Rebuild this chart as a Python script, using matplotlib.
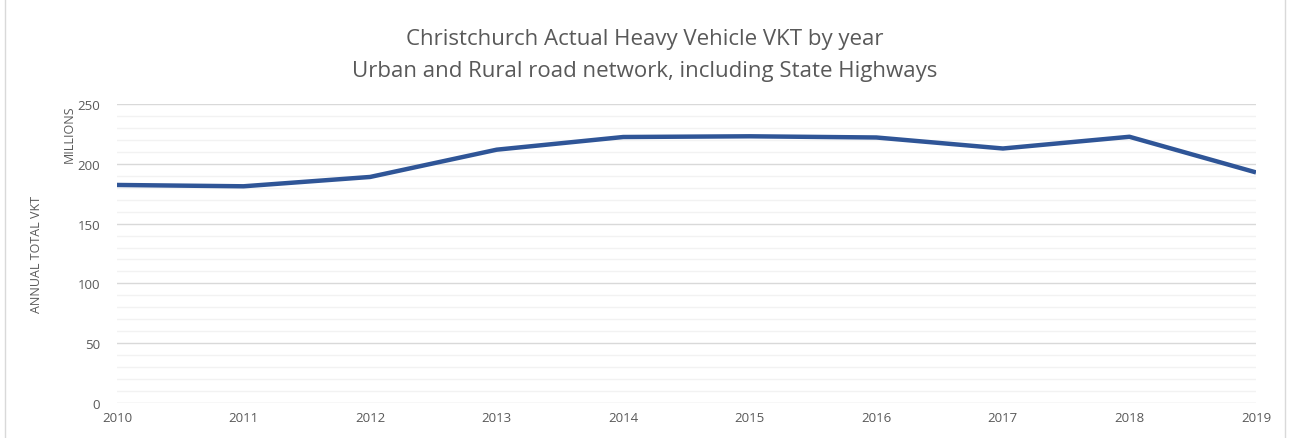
import matplotlib.pyplot as plt
from matplotlib.patches import Rectangle

years = [2010, 2011, 2012, 2013, 2014, 2015, 2016, 2017, 2018, 2019]
vkt = [182.3, 181.2, 189.0, 211.8, 222.4, 223.0, 222.0, 212.8, 222.6, 192.8]

gray = '#595959'

fig = plt.figure(figsize=(12.9, 4.39), dpi=100)
plt.rcParams['font.family'] = ['Open Sans', 'DejaVu Sans']

# рамка вокруг диаграммы
fig.patches.append(Rectangle((0.004, -0.01), 0.992, 1.02, transform=fig.transFigure,
                             fill=False, edgecolor='#d9d9d9', linewidth=1))

ax = fig.add_axes([117 / 1290, 1 - 404 / 439, (1256 - 117) / 1290, 299 / 439])
ax.plot(years, vkt, color='#2F5597', linewidth=3.2, solid_capstyle='butt')

ax.set_xlim(2010, 2019)
ax.set_ylim(0, 250)
ax.set_xticks(years)
ax.set_yticks(range(0, 251, 50))
ax.set_yticks(range(0, 251, 10), minor=True)
ax.grid(True, which='major', axis='y', color='#d9d9d9', linewidth=1)
ax.grid(True, which='minor', axis='y', color='#f2f2f2', linewidth=1)
ax.set_axisbelow(True)
for s in ax.spines.values():
    s.set_visible(False)
ax.tick_params(axis='both', which='both', length=0, colors=gray, labelsize=9.5)
ax.tick_params(axis='x', pad=6)
ax.tick_params(axis='y', pad=12)

ax.text(-0.071, 0.5, 'ANNUAL TOTAL VKT', transform=ax.transAxes, rotation=90,
        ha='center', va='center', fontsize=9, color=gray)
ax.text(-0.042, 1.0, 'MILLIONS', transform=ax.transAxes, rotation=90,
        ha='center', va='top', fontsize=9, color=gray)

fig.text(0.5, 0.91, 'Christchurch Actual Heavy Vehicle VKT by year', ha='center',
         va='center', fontsize=16, color=gray)
fig.text(0.5, 0.837, 'Urban and Rural road network, including State Highways', ha='center',
         va='center', fontsize=16, color=gray)

fig.savefig('out.png', dpi=100)
